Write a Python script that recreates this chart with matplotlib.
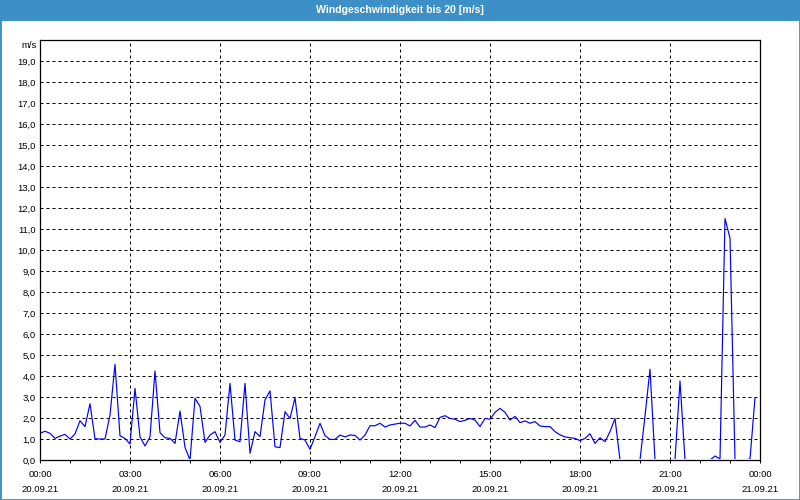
import matplotlib
matplotlib.use("Agg")
import matplotlib.pyplot as plt
import matplotlib.dates as mdates
from matplotlib.patches import Rectangle
import pandas as pd

# ---- data (10-minute samples, 20.09.21 00:00 .. 23:50) ----
title = "Windgeschwindigkeit bis 20 [m/s]"
unit_label = "m/s"
start_time = "2021-09-20 00:00"
end_time = "2021-09-21 00:00"
wind_speed = [
    1.27, 1.37, 1.27, 1.03, 1.14, 1.22, 1.00, 1.24, 1.87, 1.59,
    2.68, 1.01, 1.00, 1.00, 2.14, 4.56, 1.15, 1.03, 0.76, 3.41,
    1.10, 0.67, 1.10, 4.24, 1.30, 1.06, 1.03, 0.79, 2.33, 0.60,
    0.00, 2.94, 2.55, 0.84, 1.19, 1.35, 0.84, 1.19, 3.65, 0.95,
    0.87, 3.65, 0.32, 1.35, 1.11, 2.86, 3.29, 0.63, 0.59, 2.30,
    1.98, 2.97, 1.03, 0.95, 0.51, 1.11, 1.75, 1.16, 0.98, 0.98,
    1.19, 1.10, 1.19, 1.17, 0.95, 1.19, 1.63, 1.63, 1.75, 1.57,
    1.67, 1.71, 1.75, 1.75, 1.62, 1.89, 1.57, 1.57, 1.67, 1.54,
    2.03, 2.11, 1.98, 1.94, 1.83, 1.89, 1.98, 1.90, 1.59, 1.98,
    1.94, 2.27, 2.46, 2.27, 1.90, 2.08, 1.78, 1.86, 1.75, 1.83,
    1.62, 1.59, 1.59, 1.35, 1.20, 1.10, 1.06, 1.03, 0.92, 1.03,
    1.25, 0.79, 1.06, 0.87, 1.35, 1.98, 0.00, 0.00, 0.00, 0.00,
    0.00, 2.10, 4.32, 0.00, 0.00, 0.00, 0.00, 0.00, 3.76, 0.00,
    0.00, 0.00, 0.00, 0.00, 0.00, 0.19, 0.05, 11.50, 10.56, 0.00,
    0.00, 0.00, 0.05, 2.95,
]
y_ticks = list(range(0, 20))
y_tick_labels = [f"{v},0" for v in y_ticks]

times = pd.date_range(start_time, periods=len(wind_speed), freq="10min")

BLUE = "#3d8fc7"
FONT = "Liberation Sans"

fig = plt.figure(figsize=(8, 5), dpi=100, facecolor="white")

# title bar and border
fig.patches.append(Rectangle((0, 1 - 21 / 500), 1, 21 / 500, transform=fig.transFigure,
                             facecolor=BLUE, edgecolor="none", zorder=0))
fig.patches.append(Rectangle((0, 0), 1, 1, transform=fig.transFigure,
                             facecolor="none", edgecolor=BLUE, lw=2.0, zorder=5))
fig.text(0.5, 1 - 10 / 500, title, ha="center", va="center", color="white",
         fontsize=7.6, fontweight="bold", family=FONT)

ax = fig.add_axes([40 / 800, 40 / 500, 720 / 800, 420 / 500])
line, = ax.plot(times, wind_speed, color="#0000ff", lw=0.85, zorder=2)
# hide the part of the line that lies on the x axis (as in the original)
clip = Rectangle((0, 1.3 / 420), 1, 1, transform=ax.transAxes,
                 facecolor="none", edgecolor="none")
ax.add_patch(clip)
line.set_clip_path(clip)

ax.set_xlim(pd.Timestamp(start_time), pd.Timestamp(end_time))
ax.set_ylim(0, 20)

ax.xaxis.set_major_locator(mdates.HourLocator(byhour=range(0, 24, 3)))
ax.xaxis.set_minor_locator(mdates.HourLocator())
ax.xaxis.set_major_formatter(mdates.DateFormatter("%H:%M\n%d.%m.%y"))

ax.set_yticks(y_ticks)
ax.set_yticklabels(y_tick_labels)

ax.grid(True, which="major", color="black", lw=0.72, linestyle=(0, (3, 3)))

ax.tick_params(axis="y", length=0, pad=3, labelsize=6.8)
ax.tick_params(axis="x", which="both", length=2.5, width=0.72, direction="out",
               pad=5, labelsize=6.8)
for lab in ax.get_xticklabels():
    lab.set_linespacing(1.75)
for lab in ax.get_xticklabels() + ax.get_yticklabels():
    lab.set_family(FONT)

for s in ax.spines.values():
    s.set_linewidth(0.9)
    s.set_color("black")

fig.text(37 / 800, 1 - 46 / 500, unit_label, ha="right", va="center",
         fontsize=6.8, family=FONT)

fig.savefig("out.png", dpi=100, facecolor="white")
